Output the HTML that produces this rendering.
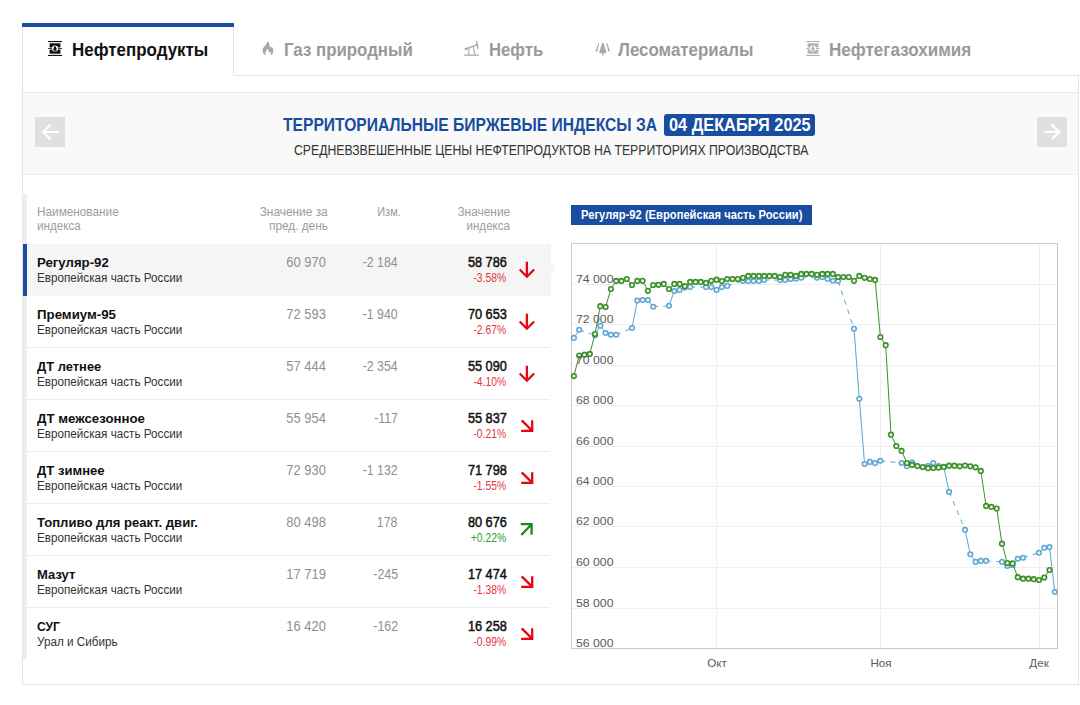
<!DOCTYPE html>
<html lang="ru"><head><meta charset="utf-8"><title>Биржевые индексы</title>
<style>
html,body{margin:0;padding:0;background:#fff;}
body{width:1080px;height:705px;position:relative;overflow:hidden;font-family:"Liberation Sans",sans-serif;color:#111;}
.abs{position:absolute;}
.t{position:absolute;white-space:nowrap;line-height:1;}
</style></head><body>

<div class="abs" style="left:22px;top:23px;width:1px;height:662px;background:#e6e6e6"></div>
<div class="abs" style="left:1078px;top:76px;width:1px;height:609px;background:#e6e6e6"></div>
<div class="abs" style="left:22px;top:684px;width:1057px;height:1px;background:#e6e6e6"></div>
<div class="abs" style="left:22px;top:23px;width:212px;height:4px;background:#184d9f"></div>
<div class="abs" style="left:233px;top:27px;width:1px;height:49px;background:#e6e6e6"></div>
<div class="abs" style="left:233px;top:75px;width:846px;height:1px;background:#e6e6e6"></div>
<div class="abs" style="left:23px;top:92px;width:1055px;height:83px;background:#f9f9f9;border-top:1px solid #eaeaea;border-bottom:1px solid #efefef;box-sizing:border-box"></div>
<div class="abs" style="left:35px;top:117px;width:30px;height:30px;background:#e0e0e0"></div>
<svg class="abs" style="left:35px;top:117px" width="30" height="30" viewBox="0 0 30 30"><path d="M24.2 15 H8.8 M15.4 7.8 L8.3 15 L15.6 22.4" fill="none" stroke="#fff" stroke-width="2.2"/></svg>
<div class="abs" style="left:1037px;top:117px;width:30px;height:30px;background:#e0e0e0"></div>
<svg class="abs" style="left:1037px;top:117px" width="30" height="30" viewBox="0 0 30 30"><path d="M6.8 14.9 H22.2 M14.4 7.6 L22.6 14.9 L14.8 22.2" fill="none" stroke="#fff" stroke-width="2.2"/></svg>
<div class="t" id="tab1" style="top:40.56px;font-size:18px;color:#111;font-weight:bold;left:71.70px;transform-origin:0 0;transform:scaleX(0.9411);">Нефтепродукты</div>
<div class="t" id="tab2" style="top:40.56px;font-size:18px;color:#999;font-weight:bold;left:283.60px;transform-origin:0 0;transform:scaleX(0.9362);">Газ природный</div>
<div class="t" id="tab3" style="top:40.56px;font-size:18px;color:#999;font-weight:bold;left:488.80px;transform-origin:0 0;transform:scaleX(0.9280);">Нефть</div>
<div class="t" id="tab4" style="top:40.56px;font-size:18px;color:#999;font-weight:bold;left:617.90px;transform-origin:0 0;transform:scaleX(0.9405);">Лесоматериалы</div>
<div class="t" id="tab5" style="top:40.56px;font-size:18px;color:#999;font-weight:bold;left:829.30px;transform-origin:0 0;transform:scaleX(0.9474);">Нефтегазохимия</div>
<div class="t" id="title" style="top:115.66px;font-size:18px;color:#184d9f;font-weight:bold;left:282.60px;transform-origin:0 0;transform:scaleX(0.8681);">ТЕРРИТОРИАЛЬНЫЕ БИРЖЕВЫЕ ИНДЕКСЫ ЗА</div>
<div class="abs" style="left:664px;top:114px;width:151px;height:22px;background:#184d9f;border-radius:3px"></div>
<div class="t" id="date" style="top:115.66px;font-size:18px;color:#fff;font-weight:bold;left:669.00px;transform-origin:0 0;transform:scaleX(0.9058);">04 ДЕКАБРЯ 2025</div>
<div class="t" id="subtitle" style="top:143.45px;font-size:14px;color:#333;left:293.60px;transform-origin:0 0;transform:scaleX(0.8738);">СРЕДНЕВЗВЕШЕННЫЕ ЦЕНЫ НЕФТЕПРОДУКТОВ НА ТЕРРИТОРИЯХ ПРОИЗВОДСТВА</div>
<div class="abs" style="left:23px;top:194px;width:4px;height:465px;background:#eeeeee"></div>
<div class="t" id="h1a" style="top:205.74px;font-size:12px;color:#9c9c9c;left:37.20px;transform-origin:0 0;transform:scaleX(0.9821);">Наименование</div>
<div class="t" id="h1b" style="top:219.64px;font-size:12px;color:#9c9c9c;left:37.20px;transform-origin:0 0;transform:scaleX(0.9694);">индекса</div>
<div class="t" id="h2a" style="top:205.74px;font-size:12px;color:#9c9c9c;right:752.20px;transform-origin:100% 0;transform:scaleX(0.9908);">Значение за</div>
<div class="t" id="h2b" style="top:219.64px;font-size:12px;color:#9c9c9c;right:752.20px;transform-origin:100% 0;transform:scaleX(0.9831);">пред. день</div>
<div class="t" id="h3" style="top:205.74px;font-size:12px;color:#9c9c9c;right:679.50px;transform-origin:100% 0;transform:scaleX(0.9137);">Изм.</div>
<div class="t" id="h4a" style="top:205.74px;font-size:12px;color:#9c9c9c;right:570.00px;transform-origin:100% 0;transform:scaleX(0.9921);">Значение</div>
<div class="t" id="h4b" style="top:219.64px;font-size:12px;color:#9c9c9c;right:570.00px;transform-origin:100% 0;transform:scaleX(0.9672);">индекса</div>
<div class="abs" style="left:27px;top:244px;width:524px;height:52px;background:#f5f5f5"></div>
<div class="abs" style="left:23px;top:244px;width:4px;height:52px;background:#184d9f"></div>
<div class="abs" style="left:551px;top:263px;width:0;height:0;border-top:6px solid transparent;border-bottom:6px solid transparent;border-left:5px solid #f5f5f5"></div>
<div class="t" id="nm0" style="top:256.00px;font-size:13px;color:#111;font-weight:bold;left:37.20px;transform-origin:0 0;transform:scaleX(1.0159);">Регуляр-92</div>
<div class="t" id="sub0" style="top:271.84px;font-size:12px;color:#333;left:37.20px;transform-origin:0 0;transform:scaleX(0.9739);">Европейская часть России</div>
<div class="t" id="prev0" style="top:255.05px;font-size:14px;color:#909090;right:754.20px;transform-origin:100% 0;transform:scaleX(0.9223);">60 970</div>
<div class="t" id="chg0" style="top:255.05px;font-size:14px;color:#909090;right:682.20px;transform-origin:100% 0;transform:scaleX(0.8815);">-2 184</div>
<div class="t" id="val0" style="top:255.05px;font-size:14px;color:#111;right:573.60px;transform-origin:100% 0;transform:scaleX(0.9083);-webkit-text-stroke:0.5px #111;">58 786</div>
<div class="t" id="pct0" style="top:271.84px;font-size:12px;color:#e6343f;right:573.80px;transform-origin:100% 0;transform:scaleX(0.8572);">-3.58%</div>
<svg class="abs" style="left:518px;top:261px" width="18" height="18" viewBox="0 0 18 18"><path d="M8.9 0.7 V15.4 M1.7 8.5 L8.9 15.7 L16.1 8.5" fill="none" stroke="#e30613" stroke-width="2.3"/></svg>
<div class="t" id="nm1" style="top:308.00px;font-size:13px;color:#111;font-weight:bold;left:37.20px;transform-origin:0 0;transform:scaleX(1.0204);">Премиум-95</div>
<div class="t" id="sub1" style="top:323.84px;font-size:12px;color:#333;left:37.20px;transform-origin:0 0;transform:scaleX(0.9739);">Европейская часть России</div>
<div class="t" id="prev1" style="top:307.05px;font-size:14px;color:#909090;right:754.20px;transform-origin:100% 0;transform:scaleX(0.9223);">72 593</div>
<div class="t" id="chg1" style="top:307.05px;font-size:14px;color:#909090;right:682.20px;transform-origin:100% 0;transform:scaleX(0.8815);">-1 940</div>
<div class="t" id="val1" style="top:307.05px;font-size:14px;color:#111;right:573.60px;transform-origin:100% 0;transform:scaleX(0.9083);-webkit-text-stroke:0.5px #111;">70 653</div>
<div class="t" id="pct1" style="top:323.84px;font-size:12px;color:#e6343f;right:573.80px;transform-origin:100% 0;transform:scaleX(0.8572);">-2.67%</div>
<svg class="abs" style="left:518px;top:313px" width="18" height="18" viewBox="0 0 18 18"><path d="M8.9 0.7 V15.4 M1.7 8.5 L8.9 15.7 L16.1 8.5" fill="none" stroke="#e30613" stroke-width="2.3"/></svg>
<div class="abs" style="left:27px;top:347px;width:523px;height:1px;background:#ececec"></div>
<div class="t" id="nm2" style="top:360.00px;font-size:13px;color:#111;font-weight:bold;left:37.20px;transform-origin:0 0;transform:scaleX(0.9940);">ДТ летнее</div>
<div class="t" id="sub2" style="top:375.84px;font-size:12px;color:#333;left:37.20px;transform-origin:0 0;transform:scaleX(0.9739);">Европейская часть России</div>
<div class="t" id="prev2" style="top:359.05px;font-size:14px;color:#909090;right:754.20px;transform-origin:100% 0;transform:scaleX(0.9223);">57 444</div>
<div class="t" id="chg2" style="top:359.05px;font-size:14px;color:#909090;right:682.20px;transform-origin:100% 0;transform:scaleX(0.8815);">-2 354</div>
<div class="t" id="val2" style="top:359.05px;font-size:14px;color:#111;right:573.60px;transform-origin:100% 0;transform:scaleX(0.9083);-webkit-text-stroke:0.5px #111;">55 090</div>
<div class="t" id="pct2" style="top:375.84px;font-size:12px;color:#e6343f;right:573.80px;transform-origin:100% 0;transform:scaleX(0.8572);">-4.10%</div>
<svg class="abs" style="left:518px;top:365px" width="18" height="18" viewBox="0 0 18 18"><path d="M8.9 0.7 V15.4 M1.7 8.5 L8.9 15.7 L16.1 8.5" fill="none" stroke="#e30613" stroke-width="2.3"/></svg>
<div class="abs" style="left:27px;top:399px;width:523px;height:1px;background:#ececec"></div>
<div class="t" id="nm3" style="top:412.00px;font-size:13px;color:#111;font-weight:bold;left:37.20px;transform-origin:0 0;transform:scaleX(1.0193);">ДТ межсезонное</div>
<div class="t" id="sub3" style="top:427.84px;font-size:12px;color:#333;left:37.20px;transform-origin:0 0;transform:scaleX(0.9739);">Европейская часть России</div>
<div class="t" id="prev3" style="top:411.05px;font-size:14px;color:#909090;right:754.20px;transform-origin:100% 0;transform:scaleX(0.9223);">55 954</div>
<div class="t" id="chg3" style="top:411.05px;font-size:14px;color:#909090;right:682.20px;transform-origin:100% 0;transform:scaleX(0.8815);">-117</div>
<div class="t" id="val3" style="top:411.05px;font-size:14px;color:#111;right:573.60px;transform-origin:100% 0;transform:scaleX(0.9083);-webkit-text-stroke:0.5px #111;">55 837</div>
<div class="t" id="pct3" style="top:427.84px;font-size:12px;color:#e6343f;right:573.80px;transform-origin:100% 0;transform:scaleX(0.8572);">-0.21%</div>
<svg class="abs" style="left:520px;top:419px" width="15" height="15" viewBox="0 0 15 15"><path d="M1.7 1.4 L12.2 11.8 M12.2 1.3 V11.8 H1.2" fill="none" stroke="#e30613" stroke-width="2.3"/></svg>
<div class="abs" style="left:27px;top:451px;width:523px;height:1px;background:#ececec"></div>
<div class="t" id="nm4" style="top:464.00px;font-size:13px;color:#111;font-weight:bold;left:37.20px;transform-origin:0 0;transform:scaleX(1.0059);">ДТ зимнее</div>
<div class="t" id="sub4" style="top:479.84px;font-size:12px;color:#333;left:37.20px;transform-origin:0 0;transform:scaleX(0.9739);">Европейская часть России</div>
<div class="t" id="prev4" style="top:463.05px;font-size:14px;color:#909090;right:754.20px;transform-origin:100% 0;transform:scaleX(0.9223);">72 930</div>
<div class="t" id="chg4" style="top:463.05px;font-size:14px;color:#909090;right:682.20px;transform-origin:100% 0;transform:scaleX(0.8815);">-1 132</div>
<div class="t" id="val4" style="top:463.05px;font-size:14px;color:#111;right:573.60px;transform-origin:100% 0;transform:scaleX(0.9083);-webkit-text-stroke:0.5px #111;">71 798</div>
<div class="t" id="pct4" style="top:479.84px;font-size:12px;color:#e6343f;right:573.80px;transform-origin:100% 0;transform:scaleX(0.8572);">-1.55%</div>
<svg class="abs" style="left:520px;top:471px" width="15" height="15" viewBox="0 0 15 15"><path d="M1.7 1.4 L12.2 11.8 M12.2 1.3 V11.8 H1.2" fill="none" stroke="#e30613" stroke-width="2.3"/></svg>
<div class="abs" style="left:27px;top:503px;width:523px;height:1px;background:#ececec"></div>
<div class="t" id="nm5" style="top:516.00px;font-size:13px;color:#111;font-weight:bold;left:37.20px;transform-origin:0 0;transform:scaleX(1.0090);">Топливо для реакт. двиг.</div>
<div class="t" id="sub5" style="top:531.84px;font-size:12px;color:#333;left:37.20px;transform-origin:0 0;transform:scaleX(0.9739);">Европейская часть России</div>
<div class="t" id="prev5" style="top:515.05px;font-size:14px;color:#909090;right:754.20px;transform-origin:100% 0;transform:scaleX(0.9223);">80 498</div>
<div class="t" id="chg5" style="top:515.05px;font-size:14px;color:#909090;right:682.20px;transform-origin:100% 0;transform:scaleX(0.8815);">178</div>
<div class="t" id="val5" style="top:515.05px;font-size:14px;color:#111;right:573.60px;transform-origin:100% 0;transform:scaleX(0.9083);-webkit-text-stroke:0.5px #111;">80 676</div>
<div class="t" id="pct5" style="top:531.84px;font-size:12px;color:#2f9a2f;right:573.80px;transform-origin:100% 0;transform:scaleX(0.8572);">+0.22%</div>
<svg class="abs" style="left:520px;top:523px" width="15" height="15" viewBox="0 0 15 15"><path d="M1.3 12.0 L11.6 1.3 M0.8 1.2 H11.6 V11.7" fill="none" stroke="#168a16" stroke-width="2.3"/></svg>
<div class="abs" style="left:27px;top:555px;width:523px;height:1px;background:#ececec"></div>
<div class="t" id="nm6" style="top:568.00px;font-size:13px;color:#111;font-weight:bold;left:37.20px;transform-origin:0 0;transform:scaleX(1.0031);">Мазут</div>
<div class="t" id="sub6" style="top:583.84px;font-size:12px;color:#333;left:37.20px;transform-origin:0 0;transform:scaleX(0.9739);">Европейская часть России</div>
<div class="t" id="prev6" style="top:567.05px;font-size:14px;color:#909090;right:754.20px;transform-origin:100% 0;transform:scaleX(0.9223);">17 719</div>
<div class="t" id="chg6" style="top:567.05px;font-size:14px;color:#909090;right:682.20px;transform-origin:100% 0;transform:scaleX(0.8815);">-245</div>
<div class="t" id="val6" style="top:567.05px;font-size:14px;color:#111;right:573.60px;transform-origin:100% 0;transform:scaleX(0.9083);-webkit-text-stroke:0.5px #111;">17 474</div>
<div class="t" id="pct6" style="top:583.84px;font-size:12px;color:#e6343f;right:573.80px;transform-origin:100% 0;transform:scaleX(0.8572);">-1.38%</div>
<svg class="abs" style="left:520px;top:575px" width="15" height="15" viewBox="0 0 15 15"><path d="M1.7 1.4 L12.2 11.8 M12.2 1.3 V11.8 H1.2" fill="none" stroke="#e30613" stroke-width="2.3"/></svg>
<div class="abs" style="left:27px;top:607px;width:523px;height:1px;background:#ececec"></div>
<div class="t" id="nm7" style="top:620.00px;font-size:13px;color:#111;font-weight:bold;left:37.20px;transform-origin:0 0;transform:scaleX(0.9316);">СУГ</div>
<div class="t" id="sub7" style="top:635.84px;font-size:12px;color:#333;left:37.20px;transform-origin:0 0;transform:scaleX(0.9748);">Урал и Сибирь</div>
<div class="t" id="prev7" style="top:619.05px;font-size:14px;color:#909090;right:754.20px;transform-origin:100% 0;transform:scaleX(0.9223);">16 420</div>
<div class="t" id="chg7" style="top:619.05px;font-size:14px;color:#909090;right:682.20px;transform-origin:100% 0;transform:scaleX(0.8815);">-162</div>
<div class="t" id="val7" style="top:619.05px;font-size:14px;color:#111;right:573.60px;transform-origin:100% 0;transform:scaleX(0.9083);-webkit-text-stroke:0.5px #111;">16 258</div>
<div class="t" id="pct7" style="top:635.84px;font-size:12px;color:#e6343f;right:573.80px;transform-origin:100% 0;transform:scaleX(0.8572);">-0.99%</div>
<svg class="abs" style="left:520px;top:627px" width="15" height="15" viewBox="0 0 15 15"><path d="M1.7 1.4 L12.2 11.8 M12.2 1.3 V11.8 H1.2" fill="none" stroke="#e30613" stroke-width="2.3"/></svg>
<div class="abs" style="left:571px;top:205px;width:241px;height:20px;background:#184d9f"></div>
<div class="t" id="clabel" style="top:208.20px;font-size:13px;color:#fff;font-weight:bold;left:581.40px;transform-origin:0 0;transform:scaleX(0.8607);">Регуляр-92 (Европейская часть России)</div>
<svg class="abs" style="left:0;top:0" width="1080" height="705" viewBox="0 0 1080 705">
<line x1="572" y1="284.5" x2="1056" y2="284.5" stroke="#efefef" stroke-width="1"/>
<line x1="572" y1="324.5" x2="1056" y2="324.5" stroke="#efefef" stroke-width="1"/>
<line x1="572" y1="365.5" x2="1056" y2="365.5" stroke="#efefef" stroke-width="1"/>
<line x1="572" y1="405.5" x2="1056" y2="405.5" stroke="#efefef" stroke-width="1"/>
<line x1="572" y1="446.5" x2="1056" y2="446.5" stroke="#efefef" stroke-width="1"/>
<line x1="572" y1="486.5" x2="1056" y2="486.5" stroke="#efefef" stroke-width="1"/>
<line x1="572" y1="526.5" x2="1056" y2="526.5" stroke="#efefef" stroke-width="1"/>
<line x1="572" y1="567.5" x2="1056" y2="567.5" stroke="#efefef" stroke-width="1"/>
<line x1="572" y1="608.5" x2="1056" y2="608.5" stroke="#efefef" stroke-width="1"/>
<line x1="716.5" y1="244" x2="716.5" y2="648" stroke="#efefef" stroke-width="1"/>
<line x1="880.5" y1="244" x2="880.5" y2="648" stroke="#efefef" stroke-width="1"/>
<line x1="1039.5" y1="244" x2="1039.5" y2="648" stroke="#efefef" stroke-width="1"/>
<rect x="571.5" y="243.5" width="486" height="405" fill="none" stroke="#c9c9c9" stroke-width="1"/>
<polyline points="573.9,337.9 579.2,329.8" fill="none" stroke="#5ba5d3" stroke-width="1"/>
<polyline points="595.0,335.2 600.3,325.7 605.6,333.0 610.9,334.8 616.2,334.8" fill="none" stroke="#5ba5d3" stroke-width="1"/>
<polyline points="632.0,328.0 637.3,300.6 642.6,300.0 647.9,300.0 653.2,306.8" fill="none" stroke="#5ba5d3" stroke-width="1"/>
<polyline points="669.0,305.8 674.3,291.0 679.6,289.9 684.9,287.5 690.2,286.9" fill="none" stroke="#5ba5d3" stroke-width="1"/>
<polyline points="706.0,287.1 711.3,287.1 716.6,289.9 721.9,287.1 727.2,285.9" fill="none" stroke="#5ba5d3" stroke-width="1"/>
<polyline points="743.0,281.0 748.3,281.0 753.6,281.0 758.9,281.0 764.2,279.9" fill="none" stroke="#5ba5d3" stroke-width="1"/>
<polyline points="780.0,280.1 785.3,279.9 790.6,279.0 795.9,278.7 801.2,277.8" fill="none" stroke="#5ba5d3" stroke-width="1"/>
<polyline points="817.0,277.8 822.3,277.0 827.6,279.0 832.9,280.8 838.1,281.0" fill="none" stroke="#5ba5d3" stroke-width="1"/>
<polyline points="854.0,328.8 859.3,398.8 864.6,464.0 869.9,461.9 875.1,463.1 880.4,460.8" fill="none" stroke="#5ba5d3" stroke-width="1"/>
<polyline points="901.6,463.0 906.9,466.2 912.1,462.5" fill="none" stroke="#5ba5d3" stroke-width="1"/>
<polyline points="928.0,466.0 933.3,463.0 938.6,466.0 943.8,467.0 949.1,491.9" fill="none" stroke="#5ba5d3" stroke-width="1"/>
<polyline points="965.0,529.9 970.3,554.2 975.6,561.9 980.8,560.9 986.1,560.9" fill="none" stroke="#5ba5d3" stroke-width="1"/>
<polyline points="1002.0,561.9 1007.3,566.0 1012.6,565.2 1017.8,558.8 1023.1,557.8" fill="none" stroke="#5ba5d3" stroke-width="1"/>
<polyline points="1039.0,552.7 1044.3,547.8 1049.5,547.1 1054.8,592.0" fill="none" stroke="#5ba5d3" stroke-width="1"/>
<line x1="579.2" y1="329.8" x2="595.0" y2="335.2" stroke="#5ba5d3" stroke-width="1" stroke-dasharray="5,5"/>
<line x1="616.2" y1="334.8" x2="632.0" y2="328.0" stroke="#5ba5d3" stroke-width="1" stroke-dasharray="5,5"/>
<line x1="653.2" y1="306.8" x2="669.0" y2="305.8" stroke="#5ba5d3" stroke-width="1" stroke-dasharray="5,5"/>
<line x1="690.2" y1="286.9" x2="706.0" y2="287.1" stroke="#5ba5d3" stroke-width="1" stroke-dasharray="5,5"/>
<line x1="727.2" y1="285.9" x2="743.0" y2="281.0" stroke="#5ba5d3" stroke-width="1" stroke-dasharray="5,5"/>
<line x1="764.2" y1="279.9" x2="780.0" y2="280.1" stroke="#5ba5d3" stroke-width="1" stroke-dasharray="5,5"/>
<line x1="801.2" y1="277.8" x2="817.0" y2="277.8" stroke="#5ba5d3" stroke-width="1" stroke-dasharray="5,5"/>
<line x1="838.1" y1="281.0" x2="854.0" y2="328.8" stroke="#5ba5d3" stroke-width="1" stroke-dasharray="5,5"/>
<line x1="880.4" y1="460.8" x2="901.6" y2="463.0" stroke="#5ba5d3" stroke-width="1" stroke-dasharray="5,5"/>
<line x1="912.1" y1="462.5" x2="928.0" y2="466.0" stroke="#5ba5d3" stroke-width="1" stroke-dasharray="5,5"/>
<line x1="949.1" y1="491.9" x2="965.0" y2="529.9" stroke="#5ba5d3" stroke-width="1" stroke-dasharray="5,5"/>
<line x1="986.1" y1="560.9" x2="1002.0" y2="561.9" stroke="#5ba5d3" stroke-width="1" stroke-dasharray="5,5"/>
<line x1="1023.1" y1="557.8" x2="1039.0" y2="552.7" stroke="#5ba5d3" stroke-width="1" stroke-dasharray="5,5"/>
<circle cx="573.9" cy="337.9" r="2.3" fill="#eef7fc" stroke="#5ba5d3" stroke-width="1.5"/>
<circle cx="579.2" cy="329.8" r="2.3" fill="#eef7fc" stroke="#5ba5d3" stroke-width="1.5"/>
<circle cx="595.0" cy="335.2" r="2.3" fill="#eef7fc" stroke="#5ba5d3" stroke-width="1.5"/>
<circle cx="600.3" cy="325.7" r="2.3" fill="#eef7fc" stroke="#5ba5d3" stroke-width="1.5"/>
<circle cx="605.6" cy="333.0" r="2.3" fill="#eef7fc" stroke="#5ba5d3" stroke-width="1.5"/>
<circle cx="610.9" cy="334.8" r="2.3" fill="#eef7fc" stroke="#5ba5d3" stroke-width="1.5"/>
<circle cx="616.2" cy="334.8" r="2.3" fill="#eef7fc" stroke="#5ba5d3" stroke-width="1.5"/>
<circle cx="632.0" cy="328.0" r="2.3" fill="#eef7fc" stroke="#5ba5d3" stroke-width="1.5"/>
<circle cx="637.3" cy="300.6" r="2.3" fill="#eef7fc" stroke="#5ba5d3" stroke-width="1.5"/>
<circle cx="642.6" cy="300.0" r="2.3" fill="#eef7fc" stroke="#5ba5d3" stroke-width="1.5"/>
<circle cx="647.9" cy="300.0" r="2.3" fill="#eef7fc" stroke="#5ba5d3" stroke-width="1.5"/>
<circle cx="653.2" cy="306.8" r="2.3" fill="#eef7fc" stroke="#5ba5d3" stroke-width="1.5"/>
<circle cx="669.0" cy="305.8" r="2.3" fill="#eef7fc" stroke="#5ba5d3" stroke-width="1.5"/>
<circle cx="674.3" cy="291.0" r="2.3" fill="#eef7fc" stroke="#5ba5d3" stroke-width="1.5"/>
<circle cx="679.6" cy="289.9" r="2.3" fill="#eef7fc" stroke="#5ba5d3" stroke-width="1.5"/>
<circle cx="684.9" cy="287.5" r="2.3" fill="#eef7fc" stroke="#5ba5d3" stroke-width="1.5"/>
<circle cx="690.2" cy="286.9" r="2.3" fill="#eef7fc" stroke="#5ba5d3" stroke-width="1.5"/>
<circle cx="706.0" cy="287.1" r="2.3" fill="#eef7fc" stroke="#5ba5d3" stroke-width="1.5"/>
<circle cx="711.3" cy="287.1" r="2.3" fill="#eef7fc" stroke="#5ba5d3" stroke-width="1.5"/>
<circle cx="716.6" cy="289.9" r="2.3" fill="#eef7fc" stroke="#5ba5d3" stroke-width="1.5"/>
<circle cx="721.9" cy="287.1" r="2.3" fill="#eef7fc" stroke="#5ba5d3" stroke-width="1.5"/>
<circle cx="727.2" cy="285.9" r="2.3" fill="#eef7fc" stroke="#5ba5d3" stroke-width="1.5"/>
<circle cx="743.0" cy="281.0" r="2.3" fill="#eef7fc" stroke="#5ba5d3" stroke-width="1.5"/>
<circle cx="748.3" cy="281.0" r="2.3" fill="#eef7fc" stroke="#5ba5d3" stroke-width="1.5"/>
<circle cx="753.6" cy="281.0" r="2.3" fill="#eef7fc" stroke="#5ba5d3" stroke-width="1.5"/>
<circle cx="758.9" cy="281.0" r="2.3" fill="#eef7fc" stroke="#5ba5d3" stroke-width="1.5"/>
<circle cx="764.2" cy="279.9" r="2.3" fill="#eef7fc" stroke="#5ba5d3" stroke-width="1.5"/>
<circle cx="780.0" cy="280.1" r="2.3" fill="#eef7fc" stroke="#5ba5d3" stroke-width="1.5"/>
<circle cx="785.3" cy="279.9" r="2.3" fill="#eef7fc" stroke="#5ba5d3" stroke-width="1.5"/>
<circle cx="790.6" cy="279.0" r="2.3" fill="#eef7fc" stroke="#5ba5d3" stroke-width="1.5"/>
<circle cx="795.9" cy="278.7" r="2.3" fill="#eef7fc" stroke="#5ba5d3" stroke-width="1.5"/>
<circle cx="801.2" cy="277.8" r="2.3" fill="#eef7fc" stroke="#5ba5d3" stroke-width="1.5"/>
<circle cx="817.0" cy="277.8" r="2.3" fill="#eef7fc" stroke="#5ba5d3" stroke-width="1.5"/>
<circle cx="822.3" cy="277.0" r="2.3" fill="#eef7fc" stroke="#5ba5d3" stroke-width="1.5"/>
<circle cx="827.6" cy="279.0" r="2.3" fill="#eef7fc" stroke="#5ba5d3" stroke-width="1.5"/>
<circle cx="832.9" cy="280.8" r="2.3" fill="#eef7fc" stroke="#5ba5d3" stroke-width="1.5"/>
<circle cx="838.1" cy="281.0" r="2.3" fill="#eef7fc" stroke="#5ba5d3" stroke-width="1.5"/>
<circle cx="854.0" cy="328.8" r="2.3" fill="#eef7fc" stroke="#5ba5d3" stroke-width="1.5"/>
<circle cx="859.3" cy="398.8" r="2.3" fill="#eef7fc" stroke="#5ba5d3" stroke-width="1.5"/>
<circle cx="864.6" cy="464.0" r="2.3" fill="#eef7fc" stroke="#5ba5d3" stroke-width="1.5"/>
<circle cx="869.9" cy="461.9" r="2.3" fill="#eef7fc" stroke="#5ba5d3" stroke-width="1.5"/>
<circle cx="875.1" cy="463.1" r="2.3" fill="#eef7fc" stroke="#5ba5d3" stroke-width="1.5"/>
<circle cx="880.4" cy="460.8" r="2.3" fill="#eef7fc" stroke="#5ba5d3" stroke-width="1.5"/>
<circle cx="901.6" cy="463.0" r="2.3" fill="#eef7fc" stroke="#5ba5d3" stroke-width="1.5"/>
<circle cx="906.9" cy="466.2" r="2.3" fill="#eef7fc" stroke="#5ba5d3" stroke-width="1.5"/>
<circle cx="912.1" cy="462.5" r="2.3" fill="#eef7fc" stroke="#5ba5d3" stroke-width="1.5"/>
<circle cx="928.0" cy="466.0" r="2.3" fill="#eef7fc" stroke="#5ba5d3" stroke-width="1.5"/>
<circle cx="933.3" cy="463.0" r="2.3" fill="#eef7fc" stroke="#5ba5d3" stroke-width="1.5"/>
<circle cx="938.6" cy="466.0" r="2.3" fill="#eef7fc" stroke="#5ba5d3" stroke-width="1.5"/>
<circle cx="943.8" cy="467.0" r="2.3" fill="#eef7fc" stroke="#5ba5d3" stroke-width="1.5"/>
<circle cx="949.1" cy="491.9" r="2.3" fill="#eef7fc" stroke="#5ba5d3" stroke-width="1.5"/>
<circle cx="965.0" cy="529.9" r="2.3" fill="#eef7fc" stroke="#5ba5d3" stroke-width="1.5"/>
<circle cx="970.3" cy="554.2" r="2.3" fill="#eef7fc" stroke="#5ba5d3" stroke-width="1.5"/>
<circle cx="975.6" cy="561.9" r="2.3" fill="#eef7fc" stroke="#5ba5d3" stroke-width="1.5"/>
<circle cx="980.8" cy="560.9" r="2.3" fill="#eef7fc" stroke="#5ba5d3" stroke-width="1.5"/>
<circle cx="986.1" cy="560.9" r="2.3" fill="#eef7fc" stroke="#5ba5d3" stroke-width="1.5"/>
<circle cx="1002.0" cy="561.9" r="2.3" fill="#eef7fc" stroke="#5ba5d3" stroke-width="1.5"/>
<circle cx="1007.3" cy="566.0" r="2.3" fill="#eef7fc" stroke="#5ba5d3" stroke-width="1.5"/>
<circle cx="1012.6" cy="565.2" r="2.3" fill="#eef7fc" stroke="#5ba5d3" stroke-width="1.5"/>
<circle cx="1017.8" cy="558.8" r="2.3" fill="#eef7fc" stroke="#5ba5d3" stroke-width="1.5"/>
<circle cx="1023.1" cy="557.8" r="2.3" fill="#eef7fc" stroke="#5ba5d3" stroke-width="1.5"/>
<circle cx="1039.0" cy="552.7" r="2.3" fill="#eef7fc" stroke="#5ba5d3" stroke-width="1.5"/>
<circle cx="1044.3" cy="547.8" r="2.3" fill="#eef7fc" stroke="#5ba5d3" stroke-width="1.5"/>
<circle cx="1049.5" cy="547.1" r="2.3" fill="#eef7fc" stroke="#5ba5d3" stroke-width="1.5"/>
<circle cx="1054.8" cy="592.0" r="2.3" fill="#eef7fc" stroke="#5ba5d3" stroke-width="1.5"/>
<polyline points="573.9,376.1 579.2,355.5 584.5,354.7 589.8,353.9 595.0,334.0 600.3,306.2 605.6,307.0 610.9,289.0 616.2,280.9 621.5,280.9 626.8,279.0 632.0,285.0 637.3,280.9 642.6,280.8 647.9,290.8 653.2,285.0 658.5,284.8 663.7,283.9 669.0,289.0 674.3,283.9 679.6,283.9 684.9,286.2 690.2,281.9 695.5,281.9 700.7,281.9 706.0,282.9 711.3,280.8 716.6,279.7 721.9,281.0 727.2,279.0 732.5,279.0 737.7,279.0 743.0,277.8 748.3,275.9 753.6,275.9 758.9,275.9 764.2,275.9 769.4,275.9 774.7,275.9 780.0,277.0 785.3,274.8 790.6,274.8 795.9,275.9 801.2,273.9 806.4,273.9 811.7,273.9 817.0,274.8 822.3,273.9 827.6,273.9 832.9,273.9 838.1,277.0 843.4,277.0 848.7,277.0 854.0,280.8 859.3,275.9 864.6,277.8 869.9,279.0 875.1,279.9 880.4,337.0 885.7,345.2 891.0,434.7 896.3,446.0 901.6,450.9 906.9,463.0 912.1,464.9 917.4,466.0 922.7,467.0 928.0,468.2 933.3,468.0 938.6,467.6 943.8,466.9 949.1,465.7 954.4,465.7 959.7,466.3 965.0,465.5 970.3,466.3 975.6,467.3 980.8,470.9 986.1,505.9 991.4,506.9 996.7,508.5 1002.0,543.7 1007.3,563.1 1012.6,563.4 1017.8,577.2 1023.1,578.7 1028.4,578.7 1033.7,579.2 1039.0,580.0 1044.3,577.5 1049.5,570.0" fill="none" stroke="#3c8f2a" stroke-width="1"/>
<circle cx="573.9" cy="376.1" r="2.3" fill="#eaf6e6" stroke="#3c8f2a" stroke-width="1.6"/>
<circle cx="579.2" cy="355.5" r="2.3" fill="#eaf6e6" stroke="#3c8f2a" stroke-width="1.6"/>
<circle cx="584.5" cy="354.7" r="2.3" fill="#eaf6e6" stroke="#3c8f2a" stroke-width="1.6"/>
<circle cx="589.8" cy="353.9" r="2.3" fill="#eaf6e6" stroke="#3c8f2a" stroke-width="1.6"/>
<circle cx="595.0" cy="334.0" r="2.3" fill="#eaf6e6" stroke="#3c8f2a" stroke-width="1.6"/>
<circle cx="600.3" cy="306.2" r="2.3" fill="#eaf6e6" stroke="#3c8f2a" stroke-width="1.6"/>
<circle cx="605.6" cy="307.0" r="2.3" fill="#eaf6e6" stroke="#3c8f2a" stroke-width="1.6"/>
<circle cx="610.9" cy="289.0" r="2.3" fill="#eaf6e6" stroke="#3c8f2a" stroke-width="1.6"/>
<circle cx="616.2" cy="280.9" r="2.3" fill="#eaf6e6" stroke="#3c8f2a" stroke-width="1.6"/>
<circle cx="621.5" cy="280.9" r="2.3" fill="#eaf6e6" stroke="#3c8f2a" stroke-width="1.6"/>
<circle cx="626.8" cy="279.0" r="2.3" fill="#eaf6e6" stroke="#3c8f2a" stroke-width="1.6"/>
<circle cx="632.0" cy="285.0" r="2.3" fill="#eaf6e6" stroke="#3c8f2a" stroke-width="1.6"/>
<circle cx="637.3" cy="280.9" r="2.3" fill="#eaf6e6" stroke="#3c8f2a" stroke-width="1.6"/>
<circle cx="642.6" cy="280.8" r="2.3" fill="#eaf6e6" stroke="#3c8f2a" stroke-width="1.6"/>
<circle cx="647.9" cy="290.8" r="2.3" fill="#eaf6e6" stroke="#3c8f2a" stroke-width="1.6"/>
<circle cx="653.2" cy="285.0" r="2.3" fill="#eaf6e6" stroke="#3c8f2a" stroke-width="1.6"/>
<circle cx="658.5" cy="284.8" r="2.3" fill="#eaf6e6" stroke="#3c8f2a" stroke-width="1.6"/>
<circle cx="663.7" cy="283.9" r="2.3" fill="#eaf6e6" stroke="#3c8f2a" stroke-width="1.6"/>
<circle cx="669.0" cy="289.0" r="2.3" fill="#eaf6e6" stroke="#3c8f2a" stroke-width="1.6"/>
<circle cx="674.3" cy="283.9" r="2.3" fill="#eaf6e6" stroke="#3c8f2a" stroke-width="1.6"/>
<circle cx="679.6" cy="283.9" r="2.3" fill="#eaf6e6" stroke="#3c8f2a" stroke-width="1.6"/>
<circle cx="684.9" cy="286.2" r="2.3" fill="#eaf6e6" stroke="#3c8f2a" stroke-width="1.6"/>
<circle cx="690.2" cy="281.9" r="2.3" fill="#eaf6e6" stroke="#3c8f2a" stroke-width="1.6"/>
<circle cx="695.5" cy="281.9" r="2.3" fill="#eaf6e6" stroke="#3c8f2a" stroke-width="1.6"/>
<circle cx="700.7" cy="281.9" r="2.3" fill="#eaf6e6" stroke="#3c8f2a" stroke-width="1.6"/>
<circle cx="706.0" cy="282.9" r="2.3" fill="#eaf6e6" stroke="#3c8f2a" stroke-width="1.6"/>
<circle cx="711.3" cy="280.8" r="2.3" fill="#eaf6e6" stroke="#3c8f2a" stroke-width="1.6"/>
<circle cx="716.6" cy="279.7" r="2.3" fill="#eaf6e6" stroke="#3c8f2a" stroke-width="1.6"/>
<circle cx="721.9" cy="281.0" r="2.3" fill="#eaf6e6" stroke="#3c8f2a" stroke-width="1.6"/>
<circle cx="727.2" cy="279.0" r="2.3" fill="#eaf6e6" stroke="#3c8f2a" stroke-width="1.6"/>
<circle cx="732.5" cy="279.0" r="2.3" fill="#eaf6e6" stroke="#3c8f2a" stroke-width="1.6"/>
<circle cx="737.7" cy="279.0" r="2.3" fill="#eaf6e6" stroke="#3c8f2a" stroke-width="1.6"/>
<circle cx="743.0" cy="277.8" r="2.3" fill="#eaf6e6" stroke="#3c8f2a" stroke-width="1.6"/>
<circle cx="748.3" cy="275.9" r="2.3" fill="#eaf6e6" stroke="#3c8f2a" stroke-width="1.6"/>
<circle cx="753.6" cy="275.9" r="2.3" fill="#eaf6e6" stroke="#3c8f2a" stroke-width="1.6"/>
<circle cx="758.9" cy="275.9" r="2.3" fill="#eaf6e6" stroke="#3c8f2a" stroke-width="1.6"/>
<circle cx="764.2" cy="275.9" r="2.3" fill="#eaf6e6" stroke="#3c8f2a" stroke-width="1.6"/>
<circle cx="769.4" cy="275.9" r="2.3" fill="#eaf6e6" stroke="#3c8f2a" stroke-width="1.6"/>
<circle cx="774.7" cy="275.9" r="2.3" fill="#eaf6e6" stroke="#3c8f2a" stroke-width="1.6"/>
<circle cx="780.0" cy="277.0" r="2.3" fill="#eaf6e6" stroke="#3c8f2a" stroke-width="1.6"/>
<circle cx="785.3" cy="274.8" r="2.3" fill="#eaf6e6" stroke="#3c8f2a" stroke-width="1.6"/>
<circle cx="790.6" cy="274.8" r="2.3" fill="#eaf6e6" stroke="#3c8f2a" stroke-width="1.6"/>
<circle cx="795.9" cy="275.9" r="2.3" fill="#eaf6e6" stroke="#3c8f2a" stroke-width="1.6"/>
<circle cx="801.2" cy="273.9" r="2.3" fill="#eaf6e6" stroke="#3c8f2a" stroke-width="1.6"/>
<circle cx="806.4" cy="273.9" r="2.3" fill="#eaf6e6" stroke="#3c8f2a" stroke-width="1.6"/>
<circle cx="811.7" cy="273.9" r="2.3" fill="#eaf6e6" stroke="#3c8f2a" stroke-width="1.6"/>
<circle cx="817.0" cy="274.8" r="2.3" fill="#eaf6e6" stroke="#3c8f2a" stroke-width="1.6"/>
<circle cx="822.3" cy="273.9" r="2.3" fill="#eaf6e6" stroke="#3c8f2a" stroke-width="1.6"/>
<circle cx="827.6" cy="273.9" r="2.3" fill="#eaf6e6" stroke="#3c8f2a" stroke-width="1.6"/>
<circle cx="832.9" cy="273.9" r="2.3" fill="#eaf6e6" stroke="#3c8f2a" stroke-width="1.6"/>
<circle cx="838.1" cy="277.0" r="2.3" fill="#eaf6e6" stroke="#3c8f2a" stroke-width="1.6"/>
<circle cx="843.4" cy="277.0" r="2.3" fill="#eaf6e6" stroke="#3c8f2a" stroke-width="1.6"/>
<circle cx="848.7" cy="277.0" r="2.3" fill="#eaf6e6" stroke="#3c8f2a" stroke-width="1.6"/>
<circle cx="854.0" cy="280.8" r="2.3" fill="#eaf6e6" stroke="#3c8f2a" stroke-width="1.6"/>
<circle cx="859.3" cy="275.9" r="2.3" fill="#eaf6e6" stroke="#3c8f2a" stroke-width="1.6"/>
<circle cx="864.6" cy="277.8" r="2.3" fill="#eaf6e6" stroke="#3c8f2a" stroke-width="1.6"/>
<circle cx="869.9" cy="279.0" r="2.3" fill="#eaf6e6" stroke="#3c8f2a" stroke-width="1.6"/>
<circle cx="875.1" cy="279.9" r="2.3" fill="#eaf6e6" stroke="#3c8f2a" stroke-width="1.6"/>
<circle cx="880.4" cy="337.0" r="2.3" fill="#eaf6e6" stroke="#3c8f2a" stroke-width="1.6"/>
<circle cx="885.7" cy="345.2" r="2.3" fill="#eaf6e6" stroke="#3c8f2a" stroke-width="1.6"/>
<circle cx="891.0" cy="434.7" r="2.3" fill="#eaf6e6" stroke="#3c8f2a" stroke-width="1.6"/>
<circle cx="896.3" cy="446.0" r="2.3" fill="#eaf6e6" stroke="#3c8f2a" stroke-width="1.6"/>
<circle cx="901.6" cy="450.9" r="2.3" fill="#eaf6e6" stroke="#3c8f2a" stroke-width="1.6"/>
<circle cx="906.9" cy="463.0" r="2.3" fill="#eaf6e6" stroke="#3c8f2a" stroke-width="1.6"/>
<circle cx="912.1" cy="464.9" r="2.3" fill="#eaf6e6" stroke="#3c8f2a" stroke-width="1.6"/>
<circle cx="917.4" cy="466.0" r="2.3" fill="#eaf6e6" stroke="#3c8f2a" stroke-width="1.6"/>
<circle cx="922.7" cy="467.0" r="2.3" fill="#eaf6e6" stroke="#3c8f2a" stroke-width="1.6"/>
<circle cx="928.0" cy="468.2" r="2.3" fill="#eaf6e6" stroke="#3c8f2a" stroke-width="1.6"/>
<circle cx="933.3" cy="468.0" r="2.3" fill="#eaf6e6" stroke="#3c8f2a" stroke-width="1.6"/>
<circle cx="938.6" cy="467.6" r="2.3" fill="#eaf6e6" stroke="#3c8f2a" stroke-width="1.6"/>
<circle cx="943.8" cy="466.9" r="2.3" fill="#eaf6e6" stroke="#3c8f2a" stroke-width="1.6"/>
<circle cx="949.1" cy="465.7" r="2.3" fill="#eaf6e6" stroke="#3c8f2a" stroke-width="1.6"/>
<circle cx="954.4" cy="465.7" r="2.3" fill="#eaf6e6" stroke="#3c8f2a" stroke-width="1.6"/>
<circle cx="959.7" cy="466.3" r="2.3" fill="#eaf6e6" stroke="#3c8f2a" stroke-width="1.6"/>
<circle cx="965.0" cy="465.5" r="2.3" fill="#eaf6e6" stroke="#3c8f2a" stroke-width="1.6"/>
<circle cx="970.3" cy="466.3" r="2.3" fill="#eaf6e6" stroke="#3c8f2a" stroke-width="1.6"/>
<circle cx="975.6" cy="467.3" r="2.3" fill="#eaf6e6" stroke="#3c8f2a" stroke-width="1.6"/>
<circle cx="980.8" cy="470.9" r="2.3" fill="#eaf6e6" stroke="#3c8f2a" stroke-width="1.6"/>
<circle cx="986.1" cy="505.9" r="2.3" fill="#eaf6e6" stroke="#3c8f2a" stroke-width="1.6"/>
<circle cx="991.4" cy="506.9" r="2.3" fill="#eaf6e6" stroke="#3c8f2a" stroke-width="1.6"/>
<circle cx="996.7" cy="508.5" r="2.3" fill="#eaf6e6" stroke="#3c8f2a" stroke-width="1.6"/>
<circle cx="1002.0" cy="543.7" r="2.3" fill="#eaf6e6" stroke="#3c8f2a" stroke-width="1.6"/>
<circle cx="1007.3" cy="563.1" r="2.3" fill="#eaf6e6" stroke="#3c8f2a" stroke-width="1.6"/>
<circle cx="1012.6" cy="563.4" r="2.3" fill="#eaf6e6" stroke="#3c8f2a" stroke-width="1.6"/>
<circle cx="1017.8" cy="577.2" r="2.3" fill="#eaf6e6" stroke="#3c8f2a" stroke-width="1.6"/>
<circle cx="1023.1" cy="578.7" r="2.3" fill="#eaf6e6" stroke="#3c8f2a" stroke-width="1.6"/>
<circle cx="1028.4" cy="578.7" r="2.3" fill="#eaf6e6" stroke="#3c8f2a" stroke-width="1.6"/>
<circle cx="1033.7" cy="579.2" r="2.3" fill="#eaf6e6" stroke="#3c8f2a" stroke-width="1.6"/>
<circle cx="1039.0" cy="580.0" r="2.3" fill="#eaf6e6" stroke="#3c8f2a" stroke-width="1.6"/>
<circle cx="1044.3" cy="577.5" r="2.3" fill="#eaf6e6" stroke="#3c8f2a" stroke-width="1.6"/>
<circle cx="1049.5" cy="570.0" r="2.3" fill="#eaf6e6" stroke="#3c8f2a" stroke-width="1.6"/>
</svg>
<div class="t" id="y0" style="top:273.97px;font-size:11.5px;color:#5a5a5a;left:575.80px;transform-origin:0 0;transform:scaleX(1.0657);">74 000</div>
<div class="t" id="y1" style="top:313.97px;font-size:11.5px;color:#5a5a5a;left:575.80px;transform-origin:0 0;transform:scaleX(1.0657);">72 000</div>
<div class="t" id="y2" style="top:354.97px;font-size:11.5px;color:#5a5a5a;left:575.80px;transform-origin:0 0;transform:scaleX(1.0657);">70 000</div>
<div class="t" id="y3" style="top:394.97px;font-size:11.5px;color:#5a5a5a;left:575.80px;transform-origin:0 0;transform:scaleX(1.0657);">68 000</div>
<div class="t" id="y4" style="top:435.97px;font-size:11.5px;color:#5a5a5a;left:575.80px;transform-origin:0 0;transform:scaleX(1.0657);">66 000</div>
<div class="t" id="y5" style="top:475.97px;font-size:11.5px;color:#5a5a5a;left:575.80px;transform-origin:0 0;transform:scaleX(1.0657);">64 000</div>
<div class="t" id="y6" style="top:515.97px;font-size:11.5px;color:#5a5a5a;left:575.80px;transform-origin:0 0;transform:scaleX(1.0657);">62 000</div>
<div class="t" id="y7" style="top:556.97px;font-size:11.5px;color:#5a5a5a;left:575.80px;transform-origin:0 0;transform:scaleX(1.0657);">60 000</div>
<div class="t" id="y8" style="top:597.97px;font-size:11.5px;color:#5a5a5a;left:575.80px;transform-origin:0 0;transform:scaleX(1.0657);">58 000</div>
<div class="t" id="y9" style="top:637.97px;font-size:11.5px;color:#5a5a5a;left:575.80px;transform-origin:0 0;transform:scaleX(1.0657);">56 000</div>
<div class="t" style="top:657.57px;font-size:11.5px;color:#5a5a5a;left:616.50px;width:200px;text-align:center;transform-origin:50% 0;transform:scaleX(1.0116);"><span id="xl0">Окт</span></div>
<div class="t" style="top:657.57px;font-size:11.5px;color:#5a5a5a;left:780.50px;width:200px;text-align:center;transform-origin:50% 0;transform:scaleX(1.0116);"><span id="xl1">Ноя</span></div>
<div class="t" style="top:657.57px;font-size:11.5px;color:#5a5a5a;left:939.20px;width:200px;text-align:center;transform-origin:50% 0;transform:scaleX(1.0116);"><span id="xl2">Дек</span></div>
<svg class="abs" style="left:48.4px;top:40.9px;opacity:1" width="14" height="15" viewBox="0 0 14 15">
<rect x="0" y="0" width="14" height="1.1" fill="#111"/>
<rect x="0" y="13.9" width="14" height="1.1" fill="#111"/>
<rect x="1.6" y="2.3" width="10.8" height="4.2" fill="#111"/>
<rect x="1.6" y="8.5" width="10.8" height="4.2" fill="#111"/>
<rect x="0" y="7.1" width="14" height="0.8" fill="#111"/>
<circle cx="7" cy="7.6" r="3.0" fill="#fff"/>
<path d="M7 4.7 C6.3 5.8 5.3 7.1 5.3 8.3 A1.7 1.7 0 0 0 8.7 8.3 C8.7 7.1 7.7 5.8 7 4.7Z" fill="#111"/>
</svg>
<svg class="abs" style="left:261.6px;top:41.2px" width="12" height="15" viewBox="0 0 12 15">
<path d="M5.8 0.1 C7.2 2.0 7.6 4.2 8.0 6.6 C8.6 6.6 9.4 6.2 9.9 5.6 C11 7.4 11.6 9.4 11.2 11.2 C10.9 12.8 9.8 14 8.6 14.6 C9.2 13.2 9.2 11.6 8.4 10.4 C8.0 11.2 7.4 11.6 6.9 11.8 C7.0 10.2 6.4 8.6 5.2 7.4 C5.0 9 3.6 10.2 3.4 11.8 C3.3 12.9 3.6 13.9 4.2 14.6 C2.2 13.8 0.6 12.0 0.5 9.8 C0.4 7.2 2.2 5.6 3.6 3.9 C4.6 2.7 5.4 1.5 5.8 0.1 Z" fill="#a8a8a8"/>
</svg>
<svg class="abs" style="left:464px;top:41px" width="16" height="15" viewBox="0 0 16 15">
<rect x="0" y="13.5" width="14.9" height="1.3" fill="#a8a8a8"/>
<g fill="none" stroke="#a8a8a8">
<path d="M0.9 8.3 L13.2 3.6" stroke-width="1.4"/>
<path d="M0.9 8.3 L3.4 7.35" stroke-width="2.3"/>
<path d="M12.5 0.3 L13.9 7.8" stroke-width="1.5"/>
<path d="M5.3 6.7 L4.6 13.6" stroke-width="1.1"/>
<path d="M9.4 5.4 L10.7 13.6" stroke-width="1.1"/>
</g>
</svg>
<svg class="abs" style="left:594.6px;top:41.6px" width="16" height="14" viewBox="0 0 16 14">
<path d="M7.8 0.3 L9.6 3.4 H8.9 L10.6 6.4 H9.8 L11.6 9.6 H10.6 L11.6 11.2 H8.4 V13.5 H7.2 V11.2 H4.0 L5.0 9.6 H4.0 L5.8 6.4 H5.0 L6.7 3.4 H6.0 Z" fill="#a8a8a8"/>
<path d="M3.4 1.0 L4.3 1.6 L2.4 8.2 L3.8 9.2 L0.1 9.2 L1.0 8.0 Z" fill="#a8a8a8"/>
<path d="M12.2 1.0 L11.3 1.6 L13.2 8.2 L11.8 9.2 L15.5 9.2 L14.6 8.0 Z" fill="#a8a8a8"/>
</svg>
<svg class="abs" style="left:805.8px;top:40.9px;opacity:1" width="14" height="15" viewBox="0 0 14 15">
<rect x="0" y="0" width="14" height="1.1" fill="#b4b4b4"/>
<rect x="0" y="13.9" width="14" height="1.1" fill="#b4b4b4"/>
<rect x="1.6" y="2.3" width="10.8" height="4.2" fill="#b4b4b4"/>
<rect x="1.6" y="8.5" width="10.8" height="4.2" fill="#b4b4b4"/>
<rect x="0" y="7.1" width="14" height="0.8" fill="#b4b4b4"/>
<circle cx="7" cy="7.6" r="3.0" fill="#fff"/>
<path d="M7 4.7 C6.3 5.8 5.3 7.1 5.3 8.3 A1.7 1.7 0 0 0 8.7 8.3 C8.7 7.1 7.7 5.8 7 4.7Z" fill="#b4b4b4"/>
</svg>
</body></html>
